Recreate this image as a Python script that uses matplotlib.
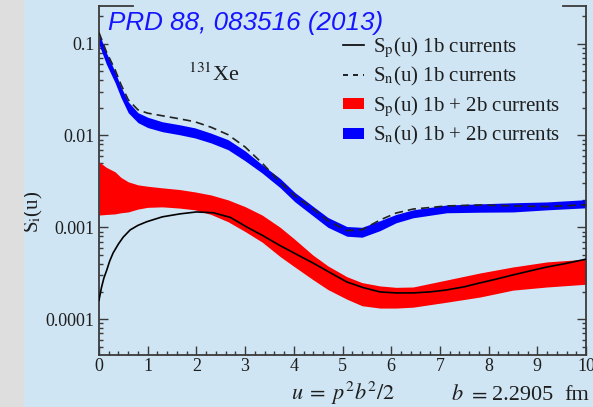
import numpy as np
import matplotlib
matplotlib.use("Agg")
import matplotlib.pyplot as plt
from matplotlib.lines import Line2D
from matplotlib.patches import Patch, Rectangle

plt.rcParams['font.family'] = ['Liberation Serif', 'DejaVu Serif']
plt.rcParams['mathtext.fontset'] = 'stix'

# ---- data ----
u_band = [0.0, 0.15, 0.33, 0.45, 0.6, 0.8, 1.0, 1.3, 1.65, 1.97, 2.3, 2.65, 3.0, 3.35, 3.72,
          4.02, 4.39, 4.7, 5.09, 5.4, 5.77, 6.1, 6.45, 7.14, 7.82, 8.5, 9.2, 10.0]
sn_hi = [0.130, 0.080, 0.0495, 0.034, 0.0233, 0.0177, 0.0158, 0.0141, 0.0131, 0.0121, 0.0106,
         0.0090, 0.0068, 0.0048, 0.00340, 0.00240, 0.00170, 0.00128, 0.00102, 0.00100, 0.00118,
         0.00138, 0.00155, 0.00175, 0.00180, 0.00185, 0.00189, 0.00200]
sn_lo = [0.098, 0.060, 0.0376, 0.026, 0.0177, 0.0138, 0.0122, 0.0110, 0.0102, 0.0094, 0.0083,
         0.0070, 0.0053, 0.0039, 0.00270, 0.00190, 0.00134, 0.00100, 0.00080, 0.00078, 0.00092,
         0.00112, 0.00127, 0.00144, 0.00146, 0.00147, 0.00155, 0.00163]
sp_hi = [0.00516, 0.00450, 0.00402, 0.00350, 0.00313, 0.00290, 0.00280, 0.00269, 0.00258, 0.00243,
         0.00225, 0.00199, 0.00168, 0.00136, 0.00100, 0.00074, 0.00050, 0.00038, 0.00029, 0.00025,
         0.00023, 0.000222, 0.000224, 0.000267, 0.000318, 0.00037, 0.00042, 0.00045]
sp_lo = [0.00136, 0.00138, 0.00140, 0.00144, 0.00147, 0.00158, 0.00165, 0.00167, 0.00162, 0.00155,
         0.00138, 0.00115, 0.00090, 0.00069, 0.00048, 0.00037, 0.00027, 0.00021, 0.000165, 0.000140,
         0.000132, 0.000132, 0.000135, 0.000153, 0.000174, 0.000207, 0.000224, 0.000240]

u_sn1 = [0.0, 0.15, 0.33, 0.45, 0.6, 0.8, 1.0, 1.3, 1.65, 1.97, 2.3, 2.65, 3.0, 3.35, 3.72,
         4.02, 4.39, 4.7, 5.09, 5.4, 5.77, 6.1, 6.45, 7.14, 7.82, 8.5, 9.2, 10.0]
sn_1b = [0.132, 0.082, 0.052, 0.036, 0.0245, 0.0190, 0.0175, 0.0164, 0.0152, 0.0141, 0.0123,
         0.0102, 0.0075, 0.0050, 0.00310, 0.00220, 0.00160, 0.00118, 0.00092, 0.00094, 0.00120,
         0.00143, 0.00158, 0.00171, 0.00175, 0.00171, 0.00168, 0.00176]

u_sp1 = [0.0, 0.05, 0.1, 0.16, 0.22, 0.29, 0.4, 0.5, 0.64, 0.8, 0.98, 1.3, 1.66, 2.0, 2.35,
         2.7, 3.03, 3.35, 3.7, 4.05, 4.39, 4.75, 5.09, 5.43, 5.77, 6.1, 6.45, 6.8, 7.14, 7.5,
         7.82, 8.16, 8.5, 8.85, 9.2, 9.55, 10.0]
sp_1b = [0.000161, 0.000220, 0.000280, 0.000343, 0.000430, 0.000526, 0.000660, 0.000785, 0.000937,
         0.00105, 0.00115, 0.00130, 0.00140, 0.00147, 0.00144, 0.00128, 0.00101, 0.00082, 0.00064,
         0.00051, 0.00041, 0.00032, 0.000254, 0.000220, 0.000198, 0.000193, 0.000193, 0.000198,
         0.000208, 0.000225, 0.000248, 0.000273, 0.000303, 0.000335, 0.00037, 0.00040, 0.00045]

labels = [r'S$_\mathrm{p}$(u) 1b currents', r'S$_\mathrm{n}$(u) 1b currents',
          r'S$_\mathrm{p}$(u) 1b + 2b currents', r'S$_\mathrm{n}$(u) 1b + 2b currents']

bg = '#cfe5f3'
txt = '#1e1e1e'
W, H = 593, 407
fig = plt.figure(figsize=(W / 100, H / 100), dpi=100, facecolor=bg)
fig.patches.append(Rectangle((0, 0), 24 / W, 1, transform=fig.transFigure,
                             facecolor='#dedede', edgecolor='none', zorder=0))

ax = fig.add_axes([99 / W, 1 - 355 / H, (586 - 99) / W, (355 - 6) / H])
ax.set_facecolor(bg)

ax.fill_between(u_band, sp_lo, sp_hi, color='#ff0000', lw=0, zorder=2)
ax.fill_between(u_band, sn_lo, sn_hi, color='#0000ff', lw=0, zorder=2)
ax.plot(u_sp1, sp_1b, color='black', lw=1.2, zorder=3)
ax.plot(u_sn1, sn_1b, color='#222222', lw=1.2, ls=(0, (5, 3)), zorder=3)

ax.set_yscale('log')
ax.set_xlim(0, 10)
ax.set_ylim(4.07e-5, 0.257)
ax.set_xticks(range(11))
ax.set_xticks(np.arange(0, 10.01, 0.2), minor=True)
ax.set_yticks([1e-4, 1e-3, 1e-2, 1e-1])
ax.set_yticklabels(['0.0001', '0.001', '0.01', '0.1'])

spc = '#3a3a3a'
for s in ['left', 'bottom', 'right']:
    ax.spines[s].set_color(spc)
    ax.spines[s].set_linewidth(1.3)
ax.spines['top'].set_visible(False)
ax.plot([0, 0.07], [1, 1], transform=ax.transAxes, color=spc, lw=1.3, clip_on=False)
ax.plot([0.953, 1], [1, 1], transform=ax.transAxes, color=spc, lw=1.3, clip_on=False)

ax.tick_params(which='both', direction='in', colors=spc, labelcolor=txt,
               labelsize=13, right=True, top=False, left=True)
ax.tick_params(which='major', length=6.5, width=1.0)
ax.tick_params(which='minor', length=3.2, width=1.0)
ax.tick_params(axis='y', pad=3)
ax.tick_params(axis='x', pad=2)

ax.set_ylabel(r'S$_\mathrm{i}$(u)', fontsize=15, color=txt)
ax.yaxis.set_label_coords(-(99 - 45) / (586 - 99), 0.41)

handles = [Line2D([], [], color='black', lw=1.2),
           Line2D([], [], color='black', lw=1.2, ls=(0, (3, 3))),
           Patch(facecolor='#ff0000', edgecolor='none'),
           Patch(facecolor='#0000ff', edgecolor='none')]
leg = fig.legend(handles, labels, loc='upper left', bbox_to_anchor=(333 / W, 1 - 25 / H),
                 frameon=False, fontsize=15, handlelength=1.0, handleheight=0.45,
                 handletextpad=0.4, labelspacing=0.28, borderpad=0)
for t in leg.get_texts():
    t.set_color(txt)

fig.text(188 / W, 1 - 81 / H, r'$^{131}$Xe', fontsize=16, color=txt)
fig.text(108 / W, 1 - 30 / H, 'PRD 88, 083516 (2013)', family='Liberation Sans',
         style='italic', fontsize=18.7, color='#1515ff')
fig.text(291 / W, 1 - 400 / H, r'$u\;=\;p^2b^2/2$', fontsize=16, color=txt)
ybase = 1 - 400 / H
fig.text(451 / W, ybase, r'$b$', fontsize=16, color=txt)
fig.text(468 / W, ybase, r'$=$', fontsize=16, color=txt)
fig.text(492 / W, ybase, '2.2905', fontsize=16, color=txt)
fig.text(564 / W, ybase, 'fm', fontsize=16, color=txt)

fig.savefig('out.png', dpi=100, facecolor=bg)
